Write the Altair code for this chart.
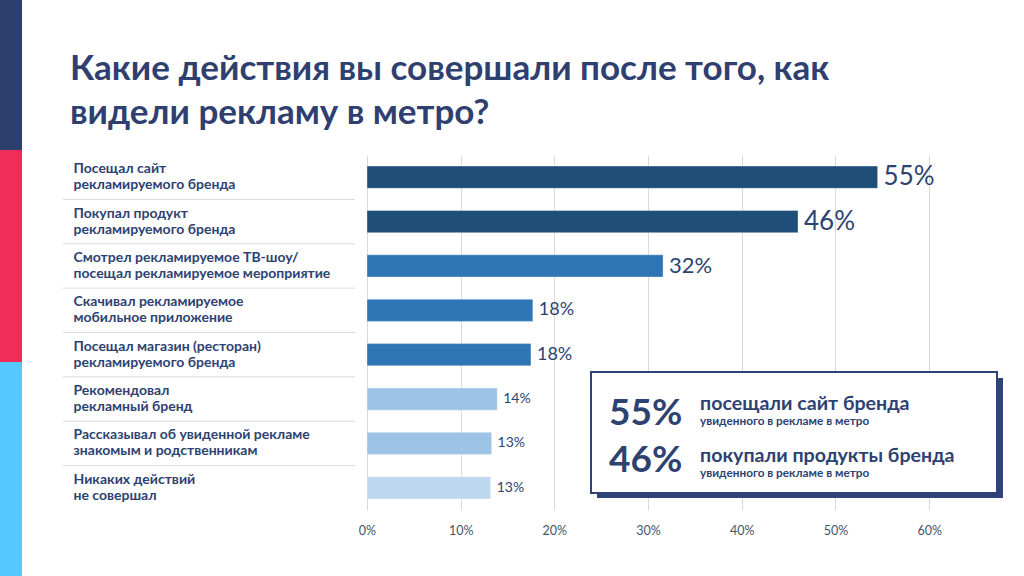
import altair as alt
import pandas as pd

# ---- data ----
categories = [
    "Посещал сайт|рекламируемого бренда",
    "Покупал продукт|рекламируемого бренда",
    "Смотрел рекламируемое ТВ-шоу/|посещал рекламируемое мероприятие",
    "Скачивал рекламируемое|мобильное приложение",
    "Посещал магазин (ресторан)|рекламируемого бренда",
    "Рекомендовал|рекламный бренд",
    "Рассказывал об  увиденной рекламе|знакомым и родственникам",
    "Никаких действий|не совершал",
]
values = [54.5, 46.0, 31.6, 17.7, 17.5, 13.9, 13.3, 13.2]
value_labels = ["55%", "46%", "32%", "18%", "18%", "14%", "13%", "13%"]
bar_colors = ["#1F4E79", "#1F4E79", "#2E75B6", "#2E75B6", "#2E75B6",
              "#9DC3E6", "#9DC3E6", "#BDD7EE"]
label_sizes = [26, 26, 22, 18, 18, 14, 14, 14]
x_ticks = [0, 10, 20, 30, 40, 50, 60]

title_lines = ["Какие действия вы совершали после того, как",
               "видели рекламу в метро?"]
box_stats = ["55%", "46%"]
box_heads = ["посещали сайт бренда", "покупали продукты бренда"]
box_sub = "увиденного в рекламе в метро"

NAVY = "#2E4272"
FONT = "Lato"

df = pd.DataFrame({
    "cat": categories,
    "value": values,
    "label": value_labels,
    "color": bar_colors,
    "size": label_sizes,
})

# plot area origin in the page: (367, 155)
OX, OY = 367, 155
W, H = 609, 355

one = alt.Data(values=[{"a": 1}])

ysc = alt.Scale(domain=categories, paddingInner=0.5, paddingOuter=0.25)
y_enc = alt.Y("cat:N", sort=categories, scale=ysc, axis=alt.Axis(
    title=None, ticks=False, domain=False, grid=False,
    labelAlign="left", labelPadding=OX - 73, labelLimit=330,
    labelFont=FONT, labelFontSize=14, labelFontWeight="bold",
    labelColor=NAVY, labelLineHeight=16, labelOffset=-8,
    labelExpr="split(datum.value, '|')"))
x_enc = alt.X("value:Q", scale=alt.Scale(domain=[0, 65], nice=False), axis=alt.Axis(
    title=None, values=x_ticks, labelExpr="datum.value + '%'",
    grid=True, gridColor="#D9D9D9", domain=False, ticks=False, labelFlush=False,
    labelFont=FONT, labelFontSize=12.5, labelColor="#44546A", labelPadding=14))

bars = alt.Chart(df).mark_bar(stroke="#FFFFFF", strokeOpacity=0.35, strokeWidth=1).encode(
    x=x_enc, y=y_enc, color=alt.Color("color:N", scale=None))

texts = alt.Chart(df).mark_text(align="left", baseline="middle", dx=6,
                                font=FONT, color=NAVY).encode(
    x="value:Q", y=alt.Y("cat:N", sort=categories, scale=ysc),
    text="label:N", size=alt.Size("size:Q", scale=None))

seps = alt.Chart(df.iloc[:-1]).mark_rule(color="#DADADA", strokeWidth=1,
                                         yOffset=22.2).encode(
    y=alt.Y("cat:N", sort=categories, scale=ysc),
    x=alt.value(63 - OX), x2=alt.value(355 - OX))

def rect(x0, y0, x1, y1, **kw):
    return alt.Chart(one).mark_rect(**kw).encode(
        x=alt.value(x0 - OX), x2=alt.value(x1 - OX),
        y=alt.value(y0 - OY), y2=alt.value(y1 - OY))

stripe = (rect(0, 0, 22, 150, color="#2C3F6F")
          + rect(0, 150, 22, 362, color="#EE2D59")
          + rect(0, 362, 22, 576, color="#55C8FE"))

def text(t, x, y, size, weight="bold", color=NAVY, **kw):
    return alt.Chart(one).mark_text(text=t, align="left", baseline="alphabetic",
                                    font=FONT, fontSize=size, fontWeight=weight,
                                    color=color, **kw).encode(
        x=alt.value(x - OX), y=alt.value(y - OY))

title = text(title_lines, 70, 80, 35, color="#2F4070", lineHeight=44)

shadow = rect(597, 378, 1003, 498, color="#2F4377")
box = rect(591, 372, 997, 493, fill="#FFFFFF", stroke="#2F4377", strokeWidth=2)

box_texts = (text(box_stats[0], 609, 425, 37)
             + text(box_stats[1], 609, 472, 37)
             + text(box_heads[0], 700, 410, 19.6)
             + text(box_heads[1], 700, 462, 19.6)
             + text(box_sub, 700, 425, 11.8)
             + text(box_sub, 700, 477, 11.8))

chart = alt.layer(
    bars, texts, seps, stripe, title, shadow, box, box_texts
).properties(
    width=W, height=H,
    autosize=alt.AutoSizeParams(type="none"),
    padding={"left": OX, "top": OY, "right": 1024 - OX - W, "bottom": 576 - OY - H},
    background="#FFFFFF",
).configure_view(stroke=None)

chart.save("out.html", embed_options={"renderer": "svg", "actions": False})
